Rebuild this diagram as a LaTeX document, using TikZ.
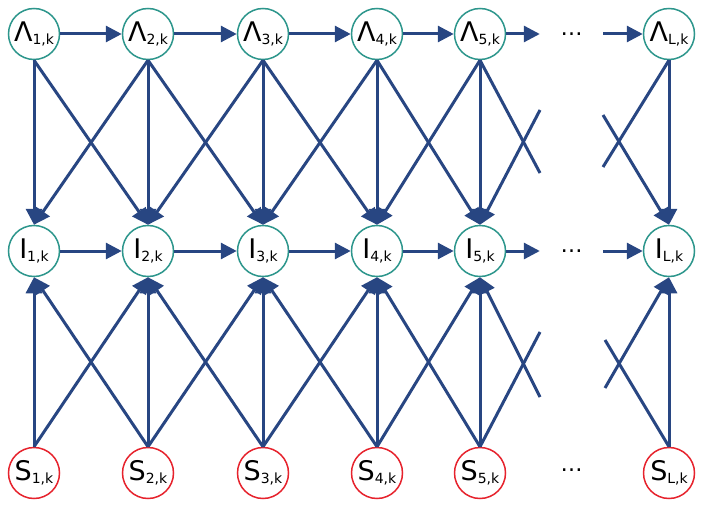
\documentclass[tikz,border=0pt]{standalone}
\usepackage{fontspec}
\setmainfont{DejaVu Sans}
\usetikzlibrary{arrows.meta}
\definecolor{ringteal}{RGB}{45, 150, 140}
\definecolor{ringred}{RGB}{230, 35, 45}
\definecolor{edgeblue}{RGB}{40, 70, 130}
\newcommand{\idx}[2]{#1\raisebox{-3pt}{\fontsize{14}{14}\selectfont #2,k}}

\begin{document}
\begin{tikzpicture}[x=1pt, y=-1pt,
    var/.style={circle, draw=ringteal, line width=1.5pt, minimum size=51pt, inner sep=0pt, font=\fontsize{27}{27}\selectfont},
    obs/.style={var, draw=ringred},
    gap/.style={minimum width=63pt, inner sep=0pt, font=\fontsize{22}{22}\selectfont},
    link/.style={draw=edgeblue, line width=3pt},
    arr/.style={link, -{Triangle[length=16pt, width=16pt]}}]
    \useasboundingbox (0, 0) rectangle (704, 508);

    % top row
    \node[var] (Lam1) at (34, 34) {\idx{Λ}{1}};
    \node[var] (Lam2) at (148, 34) {\idx{Λ}{2}};
    \node[var] (Lam3) at (263, 34) {\idx{Λ}{3}};
    \node[var] (Lam4) at (377, 34) {\idx{Λ}{4}};
    \node[var] (Lam5) at (480, 34) {\idx{Λ}{5}};
    \node[gap] (Ldots) at (571.5, 34) {…};
    \node[var] (LamL) at (669, 34) {\idx{Λ}{L}};

    % middle row
    \node[var] (I1) at (34, 251) {\idx{I}{1}};
    \node[var] (I2) at (148, 251) {\idx{I}{2}};
    \node[var] (I3) at (263, 251) {\idx{I}{3}};
    \node[var] (I4) at (377, 251) {\idx{I}{4}};
    \node[var] (I5) at (480, 251) {\idx{I}{5}};
    \node[gap] (Idots) at (571.5, 251) {…};
    \node[var] (IL) at (669, 251) {\idx{I}{L}};

    % bottom row
    \node[obs] (S1) at (34, 473) {\idx{S}{1}};
    \node[obs] (S2) at (148, 473) {\idx{S}{2}};
    \node[obs] (S3) at (263, 473) {\idx{S}{3}};
    \node[obs] (S4) at (377, 473) {\idx{S}{4}};
    \node[obs] (S5) at (480, 473) {\idx{S}{5}};
    \node[gap] (Sdots) at (571.5, 470) {…};
    \node[obs] (SL) at (669, 473) {\idx{S}{L}};

    % loose ends at the gap
    \coordinate (cutA) at (540, 173);
    \coordinate (cutB) at (540, 110);
    \coordinate (cutC) at (603, 167);
    \coordinate (cutD) at (603, 115);
    \coordinate (cutE) at (540, 332);
    \coordinate (cutF) at (540, 397);
    \coordinate (cutG) at (605, 340);
    \coordinate (cutH) at (605, 388);

    % chains
    \draw[arr] (Lam1) -- (Lam2);
    \draw[arr] (Lam2) -- (Lam3);
    \draw[arr] (Lam3) -- (Lam4);
    \draw[arr] (Lam4) -- (Lam5);
    \draw[arr] (Lam5) -- (Ldots);
    \draw[arr] (Ldots) -- (LamL);
    \draw[arr] (I1) -- (I2);
    \draw[arr] (I2) -- (I3);
    \draw[arr] (I3) -- (I4);
    \draw[arr] (I4) -- (I5);
    \draw[arr] (I5) -- (Idots);
    \draw[arr] (Idots) -- (IL);

    % top to middle
    \path (Lam1.south) edge[arr] (I1.north) edge[arr] (I2.north);
    \path (Lam2.south) edge[arr] (I1.north) edge[arr] (I2.north) edge[arr] (I3.north);
    \path (Lam3.south) edge[arr] (I2.north) edge[arr] (I3.north) edge[arr] (I4.north);
    \path (Lam4.south) edge[arr] (I3.north) edge[arr] (I4.north) edge[arr] (I5.north);
    \path (Lam5.south) edge[arr] (I4.north) edge[arr] (I5.north);
    \draw[link] (Lam5.south) -- (cutA);
    \draw[arr] (cutB) -- (I5.north);
    \draw[link] (LamL.south) -- (cutC);
    \draw[arr] (LamL.south) -- (IL.north);
    \draw[arr] (cutD) -- (IL.north);

    % bottom to middle
    \path (S1.north) edge[arr] (I1.south) edge[arr] (I2.south);
    \path (S2.north) edge[arr] (I1.south) edge[arr] (I2.south) edge[arr] (I3.south);
    \path (S3.north) edge[arr] (I2.south) edge[arr] (I3.south) edge[arr] (I4.south);
    \path (S4.north) edge[arr] (I3.south) edge[arr] (I4.south) edge[arr] (I5.south);
    \path (S5.north) edge[arr] (I4.south) edge[arr] (I5.south);
    \draw[link] (S5.north) -- (cutE);
    \draw[arr] (cutF) -- (I5.south);
    \draw[link] (SL.north) -- (cutG);
    \draw[arr] (SL.north) -- (IL.south);
    \draw[arr] (cutH) -- (IL.south);
\end{tikzpicture}
\end{document}
